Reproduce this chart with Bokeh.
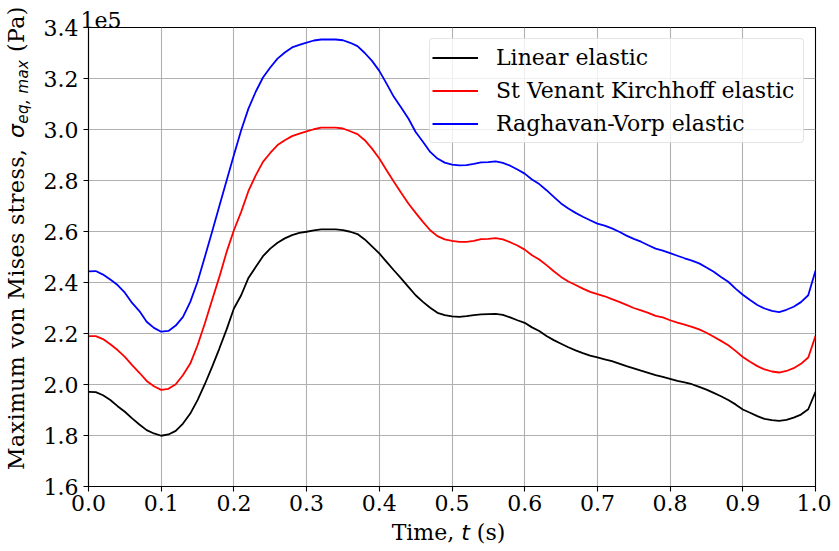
from bokeh.plotting import figure
from bokeh.models import (FixedTicker, PrintfTickFormatter, Legend, LegendItem,
                          ColumnDataSource, Range1d, Div)
from bokeh.layouts import row, column
from bokeh.embed import file_html
from bokeh.resources import INLINE

# ---- data (stress values in units of 1e5 Pa) ----
time_s = [round(i * 0.01, 2) for i in range(101)]

linear_elastic = [
    1.971, 1.970, 1.958, 1.939, 1.915, 1.893, 1.867, 1.843, 1.821, 1.808,
    1.799, 1.804, 1.818, 1.847, 1.886, 1.939, 2.001, 2.069, 2.141, 2.216,
    2.298, 2.350, 2.418, 2.461, 2.503, 2.533, 2.556, 2.573, 2.586, 2.595,
    2.599, 2.604, 2.608, 2.608, 2.608, 2.605, 2.599, 2.590, 2.569, 2.542,
    2.514, 2.481, 2.448, 2.416, 2.383, 2.350, 2.324, 2.301, 2.281, 2.272,
    2.267, 2.265, 2.268, 2.272, 2.275, 2.276, 2.277, 2.273, 2.263, 2.252,
    2.242, 2.224, 2.210, 2.190, 2.174, 2.160, 2.146, 2.134, 2.123, 2.113,
    2.106, 2.099, 2.092, 2.082, 2.072, 2.063, 2.054, 2.046, 2.037, 2.030,
    2.022, 2.014, 2.008, 2.001, 1.991, 1.980, 1.967, 1.954, 1.939, 1.922,
    1.902, 1.889, 1.876, 1.865, 1.860, 1.857, 1.861, 1.870, 1.882, 1.903,
    1.971,
]

st_venant_kirchhoff = [
    2.190, 2.190, 2.178, 2.158, 2.135, 2.108, 2.076, 2.046, 2.014, 1.993,
    1.979, 1.983, 2.001, 2.037, 2.082, 2.154, 2.239, 2.331, 2.422, 2.520,
    2.605, 2.677, 2.759, 2.820, 2.873, 2.908, 2.939, 2.958, 2.974, 2.984,
    2.993, 3.001, 3.007, 3.007, 3.007, 3.004, 2.993, 2.982, 2.958, 2.925,
    2.886, 2.840, 2.795, 2.752, 2.710, 2.673, 2.638, 2.605, 2.582, 2.569,
    2.563, 2.559, 2.559, 2.563, 2.570, 2.571, 2.574, 2.569, 2.558, 2.545,
    2.529, 2.507, 2.490, 2.468, 2.444, 2.422, 2.404, 2.390, 2.376, 2.363,
    2.354, 2.346, 2.335, 2.324, 2.312, 2.300, 2.291, 2.281, 2.269, 2.263,
    2.252, 2.243, 2.235, 2.226, 2.216, 2.203, 2.187, 2.171, 2.154, 2.132,
    2.108, 2.089, 2.072, 2.059, 2.051, 2.047, 2.053, 2.064, 2.081, 2.106,
    2.190,
]

raghavan_vorp = [
    2.444, 2.445, 2.431, 2.412, 2.390, 2.360, 2.320, 2.288, 2.246, 2.222,
    2.207, 2.210, 2.231, 2.265, 2.324, 2.403, 2.500, 2.599, 2.700, 2.800,
    2.900, 2.997, 3.082, 3.148, 3.204, 3.243, 3.278, 3.302, 3.322, 3.332,
    3.341, 3.349, 3.353, 3.353, 3.353, 3.350, 3.340, 3.327, 3.300, 3.269,
    3.230, 3.180, 3.128, 3.086, 3.043, 2.990, 2.952, 2.912, 2.886, 2.870,
    2.862, 2.859, 2.860, 2.865, 2.871, 2.872, 2.875, 2.869, 2.858, 2.843,
    2.827, 2.804, 2.786, 2.762, 2.736, 2.710, 2.690, 2.673, 2.658, 2.644,
    2.631, 2.623, 2.612, 2.599, 2.584, 2.571, 2.560, 2.546, 2.533, 2.525,
    2.515, 2.505, 2.495, 2.486, 2.475, 2.459, 2.442, 2.422, 2.403, 2.376,
    2.352, 2.331, 2.312, 2.298, 2.289, 2.284, 2.293, 2.305, 2.323, 2.350,
    2.446,
]

series_names = ["Linear elastic", "St Venant Kirchhoff elastic", "Raghavan-Vorp elastic"]
series_colors = ["#000000", "#ff0000", "#0000ff"]
x_ticks = [0.0, 0.1, 0.2, 0.3, 0.4, 0.5, 0.6, 0.7, 0.8, 0.9, 1.0]
y_ticks = [1.6, 1.8, 2.0, 2.2, 2.4, 2.6, 2.8, 3.0, 3.2, 3.4]
offset_text = "1e5"

SERIF = "DejaVu Serif"
FS = "22px"

p = figure(width=791, height=522, output_backend="svg", toolbar_location=None,
           x_range=Range1d(0.0, 1.0), y_range=Range1d(1.6, 3.4),
           min_border_left=42, min_border_right=16, min_border_top=27, min_border_bottom=36)

p.background_fill_color = "white"
p.border_fill_color = "white"
p.outline_line_color = "black"
p.outline_line_width = 1.1

# offset text "1e5" shown above the top-left corner of the axes
p.title.text = offset_text
p.title.text_font = SERIF
p.title.text_font_size = FS
p.title.text_font_style = "normal"
p.title.text_color = "black"
p.title.align = "left"
p.title.offset = -8
p.title.standoff = 0

for ax, ticks in ((p.xaxis, x_ticks), (p.yaxis, y_ticks)):
    ax.ticker = FixedTicker(ticks=ticks)
    ax.formatter = PrintfTickFormatter(format="%.1f")
    ax.major_label_text_font = SERIF
    ax.major_label_text_font_size = FS
    ax.major_label_text_color = "black"
    ax.axis_line_color = "black"
    ax.axis_line_width = 1.1
    ax.major_tick_line_color = "black"
    ax.major_tick_line_width = 1.1
    ax.major_tick_out = 5
    ax.major_tick_in = 0
    ax.minor_tick_line_color = None
    ax.axis_label = None

p.xaxis.major_label_standoff = 3
p.yaxis.major_label_standoff = 5

p.xgrid.ticker = FixedTicker(ticks=x_ticks)
p.ygrid.ticker = FixedTicker(ticks=y_ticks)
for g in (p.xgrid, p.ygrid):
    g.grid_line_color = "#b0b0b0"
    g.grid_line_width = 1.1

renderers = []
for name, vals, col in zip(series_names, [linear_elastic, st_venant_kirchhoff, raghavan_vorp], series_colors):
    src = ColumnDataSource(data=dict(t=time_s, s=vals))
    r = p.line("t", "s", source=src, line_color=col, line_width=1.8)
    renderers.append(r)

legend = Legend(items=[LegendItem(label=n, renderers=[r]) for n, r in zip(series_names, renderers)],
                location="top_right")
legend.label_text_font = SERIF
legend.label_text_font_size = FS
legend.label_text_color = "black"
legend.glyph_width = 46
legend.glyph_height = 33
legend.label_height = 33
legend.label_width = 305
legend.label_standoff = 18
legend.spacing = 0
legend.padding = 2
legend.margin = 11
legend.border_line_color = "#cccccc"
legend.border_line_width = 1
legend.background_fill_color = "white"
legend.background_fill_alpha = 0.8
if "border_radius" in Legend.properties():
    legend.border_radius = 4
p.add_layout(legend, "center")

# ---- axis labels as real HTML text (italic symbols, subscript) ----
math_style = "font-family:'DejaVu Sans';font-style:italic;"
y_label_html = (
    "<div style=\"font-family:'DejaVu Serif';font-size:22px;line-height:22px;color:black;"
    "white-space:nowrap;width:500px;margin:0;padding:0;letter-spacing:0.45px;"
    "transform-origin:0 0;transform:translate(6px,470px) rotate(-90deg);\">"
    "Maximum von Mises stress, "
    "<span style=\"" + math_style + "margin-left:3px;\">\u03c3<sub style=\"font-size:15px;vertical-align:-4px;line-height:0;\">eq, max</sub></span>"
    " (Pa)</div>"
)
x_label_html = (
    "<div style=\"font-family:'DejaVu Serif';font-size:22px;line-height:22px;color:black;"
    "white-space:nowrap;margin:0 0 0 82px;padding:0;width:733px;text-align:center;\">"
    "Time, <span style=\"" + math_style + "\">t</span> (s)</div>"
)

ylab = Div(text=y_label_html, width=40, height=522, margin=(0, 0, 0, 0))
xlab = Div(text=x_label_html, width=831, height=21, margin=(0, 0, 0, 0))
p.margin = (0, 0, 0, 0)

layout = column(row(ylab, p, spacing=0), xlab, spacing=0)

open("out.html", "w").write(file_html(layout, INLINE))
